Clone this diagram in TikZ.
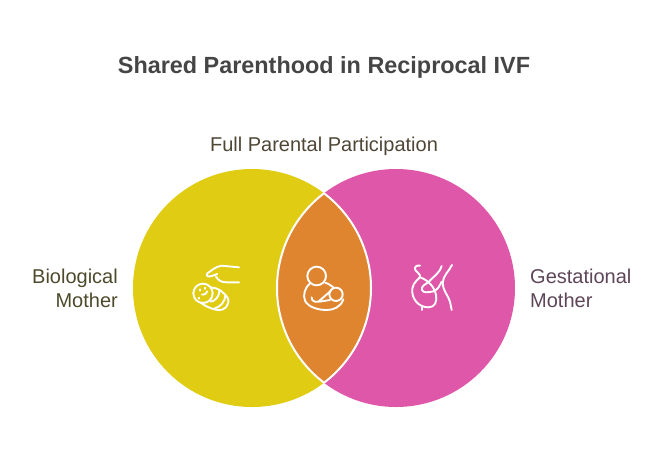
\documentclass[tikz,border=0pt]{standalone}
\usepackage{fontspec}
\setmainfont{Liberation Sans}
\definecolor{bioyellow}{HTML}{E0CC12}
\definecolor{gestpink}{HTML}{DF57A8}
\definecolor{shareorange}{HTML}{DF8530}
\definecolor{fulltext}{HTML}{4F4636}
\definecolor{biotext}{HTML}{4D4A2C}
\definecolor{gesttext}{HTML}{5E4558}
\tikzset{
	iconline/.style={draw=white,line width=1.9pt,line cap=round,line join=round},
	sidelabel/.style={font=\fontsize{20}{24}\selectfont,inner sep=0pt}
}
\begin{document}
\begin{tikzpicture}[x=1pt,y=-1pt]
	\useasboundingbox (0,0) rectangle (672,456);
	
	\fill[bioyellow] (252,288) circle(119);
	\fill[gestpink] (396,288) circle(119);
	\begin{scope}
		\clip (252,288) circle(119);
		\fill[shareorange] (396,288) circle(119);
	\end{scope}
	\begin{scope}
		\clip (252,288) circle(119);
		\draw[white,line width=2pt] (396,288) circle(119);
	\end{scope}
	\begin{scope}
		\clip (396,288) circle(119);
		\draw[white,line width=2pt] (252,288) circle(119);
	\end{scope}
	
	\node[font=\bfseries\fontsize{23.4}{28}\selectfont,text=black!73,inner sep=0pt] (title) at (324,67.5) {Shared Parenthood in Reciprocal IVF};
	\node[sidelabel,text=fulltext] (full) at (324,146) {Full Parental Participation};
	\node[sidelabel,anchor=east,align=right,text=biotext] (bio) at (118,288) {Biological\\Mother};
	\node[sidelabel,anchor=west,align=left,text=gesttext] (gest) at (530,288) {Gestational\\Mother};
	
	% baby and hand
	\begin{scope}[shift={(180,250)},scale=1/3]
		\draw[iconline] (177,52) -- (125,47) .. controls (105,50) and (95,62) .. (82,70) .. controls (76,78) and (85,82) .. (95,78) -- (112,72);
		\draw[iconline] (108,80) .. controls (115,92) and (125,97) .. (140,97) -- (177,97);
		\draw[iconline] (69,130) circle(29);
		\draw[iconline] (92,112) .. controls (112,112) and (135,128) .. (144,146) .. controls (150,166) and (132,184) .. (112,180) .. controls (95,177) and (78,170) .. (62,158);
		\draw[iconline] (118,122) .. controls (118,138) and (108,152) .. (92,155);
		\draw[iconline] (136,136) .. controls (136,155) and (120,172) .. (102,176);
		\draw[iconline] (60,118) -- (60,122);
		\draw[iconline] (75,113) -- (75,117);
		\draw[iconline] (58,143) -- (58,146);
		\draw[iconline] (66,134) .. controls (74,136) and (80,130) .. (82,124);
	\end{scope}
	
	% mother holding baby
	\begin{scope}[shift={(290,250)},scale=1/3]
		\draw[iconline] (80,78) circle(28);
		\draw[iconline] (138,133) circle(20);
		\draw[iconline] (60,100) .. controls (45,112) and (38,135) .. (45,152) .. controls (55,172) and (85,180) .. (110,180) .. controls (130,180) and (152,172) .. (160,148);
		\draw[iconline] (105,98) .. controls (115,100) and (125,108) .. (132,114);
		\draw[iconline] (65,142) .. controls (65,152) and (72,157) .. (85,155) -- (122,123);
		\draw[iconline] (88,155) -- (120,150);
	\end{scope}
	
	% pregnant side view
	\begin{scope}[shift={(400,250)},scale=1/3]
		\draw[iconline] (60,47) .. controls (48,45) and (42,52) .. (46,60) .. controls (50,68) and (62,72) .. (60,80) .. controls (58,88) and (40,95) .. (37,115) .. controls (33,145) and (55,172) .. (85,172) .. controls (105,172) and (112,155) .. (108,135) .. controls (104,112) and (85,90) .. (60,82);
		\draw[iconline] (125,48) .. controls (122,65) and (100,80) .. (85,97) .. controls (75,103) and (62,110) .. (66,120) .. controls (70,130) and (85,127) .. (100,124) .. controls (115,118) and (118,108) .. (125,95);
		\draw[iconline] (156,45) .. controls (148,62) and (128,78) .. (128,100) .. controls (128,120) and (145,138) .. (150,155) -- (155,180);
		\draw[iconline] (67,170) -- (67,180);
	\end{scope}
\end{tikzpicture}
\end{document}
